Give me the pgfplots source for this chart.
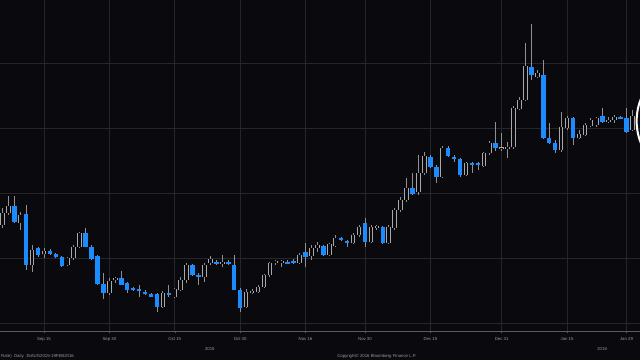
\documentclass[border=0pt]{standalone}
\usepackage{fontspec}
\setmainfont{Liberation Sans}
\usepackage{pgfplots}
\pgfplotsset{compat=1.18}
\usepackage{pgfplotstable}
\definecolor{bgc}{HTML}{0A0A0E}
\definecolor{gridc}{HTML}{26262A}
\definecolor{axc}{HTML}{5A5A5A}
\definecolor{bluec}{HTML}{1A8CFF}
\definecolor{wickc}{HTML}{909090}
\definecolor{upc}{HTML}{A8A8A8}
\definecolor{labc}{HTML}{9A9A9A}

% up (hollow) candles: index open high low close
\pgfplotstableread{
i o h l c
0 115 132 112 127
1 127 144 125 134
3 117 128 110 125
5 75 95 68 90
7 86 92 82 89
11 75 83 74 82
12 82 95 80 93
13 93 108 92 107
18 47 62 45 59
19 60 63 57 62
27 33 49 32 47
29 43 52 42 51
30 50 63 49 60
31 60 77 57 75
34 63 77 58 75
35 77 84 75 81
37 77 85 73 78
41 33 51 32 48
42 48 51 46 49
43 48 55 47 53
44 53 66 52 65
45 65 78 63 77
46 78 80 75 79
47 78 80 73 79
50 77 87 76 85
52 84 95 80 92
53 92 98 88 95
55 85 97 84 96
56 94 105 93 102
59 97 107 96 105
60 105 115 103 113
62 98 115 97 113
63 113 115 110 114
65 97 115 96 113
66 112 132 110 130
67 130 143 128 140
68 140 162 138 152
70 148 185 145 167
71 167 188 165 184
74 163 194 162 192
78 165 178 164 177
81 174 188 173 187
82 187 199 185 197
84 191.5 207 189 192.5
85 192 198 182 193
86 193 234 191 232
87 231 243 230 240
88 240 297 239 274
90 263 270 262 267
94 190 228 188 213
95 212 224 210 222
97 202 210 201 206
98 205 217 204 215
99 214 222 213 220
100 215 223 213 222
102 218 223 217 220
103 220 225 217 223
106 210 230 209 224
}\uptab

% down (filled) candles: index open high low close
\pgfplotstableread{
i o h l c
2 134 144 117 118
4 126 135 70 75
6 92 93 83 85
8 89 91 85 86
9 86 87 82 83
10 83 84 73 74
14 107 112 93 93
15 93 95 80 81
16 84 85 55 56
17 56 67 41 47
20 62 69 55 55
21 57 58 47 50
22 52 53 49 50
23 51 55 43 49
24 48 50 45 46
25 46 47 43 43
26 46 47 28 33
28 47 55 43 45
32 75 76 64 65
33 65 67 55 63
36 78 80 75 77
38 78 80 75 77
39 75 85 50 50
40 50 52 28 32
48 78 80 76 77
49 79 81 76 77
51 88 97 73 83
54 94 95 84 85
57 102 103 99 100
58 99 100 93 97
61 117 122 93 98
64 113 114 96 97
69 152 167 145 146
72 183 185 172 173
73 173 175 157 163
75 192 194 183 184
76 183 185 178 182
77 181 182 163 165
79 177 178 167 176
80 177 178 170 175
83 197 218 189 192
89 273 316 260 265
91 265 280 201 202
92 202 217 196 197
93 197 200 187 190
96 222 223 195 202
101 224 232 217 218
104 223 224 221 222
105 222 232 207 208
}\dntab

\begin{document}
\begin{tikzpicture}
\useasboundingbox (0,-29pt) rectangle (640pt,331pt);
\fill[bgc] (0,-29pt) rectangle (640pt,331pt);
\begin{axis}[at={(0,0)}, anchor=south west,
  scale only axis, width=640pt, height=331pt,
  xmin=-0.4, xmax=107.27, ymin=9, ymax=340,
  clip mode=individual,
  axis x line*=bottom, axis y line*=left,
  x axis line style={draw=axc, line width=0.6pt},
  y axis line style={draw=none},
  ytick={17,82,147,212,277}, yticklabels={}, ytick style={draw=none},
  ymajorgrids, xmajorgrids,
  grid style={draw=gridc, line width=0.7pt},
  xtick={7,18,29,40,51,61,72,84,95,105},
  xticklabels={Sep 15,Sep 30,Oct 15,Oct 30,Nov 16,Nov 30,Dec 15,Dec 31,Jan 15,Jan 29},
  xtick style={draw=axc, line width=0.5pt},
  tick align=outside, major tick length=2pt, minor tick length=1.5pt,
  minor x tick num=1,
  xticklabel style={font=\fontsize{4.3}{5}\selectfont, text=labc, yshift=-1pt},
  error bars/error mark=none,
]
% wicks
\addplot[draw=none, mark=none, forget plot,
  error bars/.cd, y dir=both, y explicit,
  error bar style={draw=wickc, line width=0.8pt, solid}]
  table[x=i, y expr={(\thisrow{h}+\thisrow{l})/2}, y error expr={(\thisrow{h}-\thisrow{l})/2}] {\uptab};
\addplot[draw=none, mark=none, forget plot,
  error bars/.cd, y dir=both, y explicit,
  error bar style={draw=wickc, line width=0.8pt, solid}]
  table[x=i, y expr={(\thisrow{h}+\thisrow{l})/2}, y error expr={(\thisrow{h}-\thisrow{l})/2}] {\dntab};
% hollow up bodies
\addplot[draw=none, mark=none, forget plot,
  error bars/.cd, y dir=both, y explicit,
  error bar style={draw=upc, line width=4.5pt, solid}]
  table[x=i, y expr={(\thisrow{o}+\thisrow{c})/2}, y error expr={abs(\thisrow{c}-\thisrow{o})/2+0.45}] {\uptab};
\addplot[draw=none, mark=none, forget plot,
  error bars/.cd, y dir=both, y explicit,
  error bar style={draw=bgc, line width=2.7pt, solid}]
  table[x=i, y expr={(\thisrow{o}+\thisrow{c})/2}, y error expr={max(abs(\thisrow{c}-\thisrow{o})/2-0.45,0)}] {\uptab};
% filled down bodies
\addplot[draw=none, mark=none, forget plot,
  error bars/.cd, y dir=both, y explicit,
  error bar style={draw=bluec, line width=4.5pt, solid}]
  table[x=i, y expr={(\thisrow{o}+\thisrow{c})/2}, y error expr={max(abs(\thisrow{c}-\thisrow{o})/2,0.6)}] {\dntab};
% annotation ring at the right edge
\draw[white, line width=2pt] (axis cs:116.8,219) circle[radius=60pt];
% year labels and footer
\node[font=\fontsize{4.3}{5}\selectfont, text=labc, yshift=-18pt] at (axis cs:34.9,9) {2015};
\node[font=\fontsize{4.3}{5}\selectfont, text=labc, yshift=-18pt] at (axis cs:100.9,9) {2016};
\node[font=\fontsize{4.3}{5}\selectfont, text=labc, anchor=west, yshift=-25pt, inner sep=1pt] at (rel axis cs:0,0) {Rate)\ \ Daily\ \ 15AUG2015-19FEB2016};
\node[font=\fontsize{4.3}{5}\selectfont, text=labc, yshift=-25pt] at (axis cs:63,9) {Copyright\textcopyright\ 2016 Bloomberg Finance L.P.};
\end{axis}
\end{tikzpicture}
\end{document}
